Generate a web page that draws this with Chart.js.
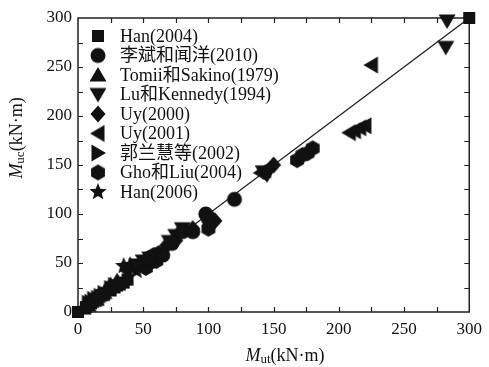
<!DOCTYPE html>
<html>
<head>
<meta charset="utf-8">
<script src="https://cdn.jsdelivr.net/npm/chart.js@4.4.1/dist/chart.umd.min.js"></script>
<style>
  body { margin: 0; background: #fff; }
  #chart { display: block; }
</style>
</head>
<body>
<canvas id="chart" width="489" height="367"></canvas>
<script>
// series names (legend order)
const seriesNames = ['Han(2004)', '李斌和闻洋(2010)', 'Tomii和Sakino(1979)', 'Lu和Kennedy(1994)',
  'Uy(2000)', 'Uy(2001)', '郭兰慧等(2002)', 'Gho和Liu(2004)', 'Han(2006)'];
const markerTypes = ['square', 'circle', 'up', 'down', 'diamond', 'left', 'right', 'hexagon', 'star'];

// [Mut, Muc] pairs
const han2004 = [[0, 0], [300, 300], [6, 5], [10, 9], [15, 13], [18, 17], [20, 18], [25, 22], [28, 25], [30, 27], [32, 28], [35, 30], [38, 33]];
const li2010 = [[98, 100], [120, 115], [80, 82], [88, 82], [72, 70], [60, 57], [55, 55], [65, 58], [100, 95]];
const tomii1979 = [[4, 4], [6, 8], [8, 7], [10, 11], [12, 12], [14, 13], [15, 16], [18, 18], [20, 20], [22, 24], [25, 28], [30, 32]];
const lu1994 = [[283, 297], [282, 270], [145, 140], [142, 143], [75, 78], [80, 85], [70, 72], [45, 48], [50, 52], [55, 55]];
const uy2000 = [[150, 150], [103, 95], [88, 85], [68, 68], [75, 73], [58, 55], [105, 93]];
const uy2001 = [[225, 252], [208, 183], [212, 185], [216, 188], [220, 190], [143, 145], [140, 142]];
const guo2002 = [[8, 9], [10, 10], [12, 13], [15, 14], [17, 16], [20, 19], [25, 24], [28, 27]];
const gho2004 = [[100, 85], [168, 155], [172, 160], [176, 162], [180, 167], [52, 45], [55, 50], [60, 52], [62, 60], [58, 58]];
const han2006 = [[35, 47], [42, 45], [38, 40], [45, 42], [48, 46], [40, 48]];
const seriesData = [han2004, li2010, tomii1979, lu1994, uy2000, uy2001, guo2002, gho2004, han2006];

const xTicks = [0, 50, 100, 150, 200, 250, 300];
const yTicks = [0, 50, 100, 150, 200, 250, 300];

const INK = '#111';
const SERIF = '"Liberation Serif", "Times New Roman", "Noto Sans CJK SC", serif';

// build a small canvas for each marker shape
function makeMarker(type) {
  const size = 20, r = size / 2;
  const c = document.createElement('canvas');
  c.width = c.height = size;
  const g = c.getContext('2d');
  g.fillStyle = INK;
  g.translate(r, r);
  g.beginPath();
  const poly = pts => { g.moveTo(pts[0][0], pts[0][1]); pts.slice(1).forEach(p => g.lineTo(p[0], p[1])); g.closePath(); };
  switch (type) {
    case 'square': g.rect(-6, -6, 12, 12); break;
    case 'circle': g.arc(0, 0, 7.5, 0, Math.PI * 2); break;
    case 'up': poly([[0, -8], [8.5, 6.5], [-8.5, 6.5]]); break;
    case 'down': poly([[0, 8], [8.5, -6.5], [-8.5, -6.5]]); break;
    case 'diamond': poly([[0, -8.5], [7.5, 0], [0, 8.5], [-7.5, 0]]); break;
    case 'left': poly([[-8, 0], [6.5, -8.5], [6.5, 8.5]]); break;
    case 'right': poly([[8, 0], [-6.5, -8.5], [-6.5, 8.5]]); break;
    case 'hexagon': {
      const pts = [];
      for (let k = 0; k < 6; k++) { const a = -Math.PI / 2 + k * Math.PI / 3; pts.push([8 * Math.cos(a), 8 * Math.sin(a)]); }
      poly(pts); break;
    }
    case 'star': {
      const pts = [];
      for (let k = 0; k < 10; k++) { const a = -Math.PI / 2 + k * Math.PI / 5; const rr = k % 2 ? 3.9 : 9; pts.push([rr * Math.cos(a), rr * Math.sin(a)]); }
      poly(pts); break;
    }
  }
  g.fill();
  return c;
}
const markers = markerTypes.map(makeMarker);

// frame + inward ticks on all four sides
const framePlugin = {
  id: 'frame',
  beforeDatasetsDraw(chart) {
    const { ctx, chartArea: { left, right, top, bottom }, scales: { x, y } } = chart;
    ctx.save();
    ctx.strokeStyle = '#222';
    ctx.lineWidth = 1.5;
    ctx.strokeRect(left, top, right - left, bottom - top);
    ctx.lineWidth = 1.2;
    ctx.beginPath();
    for (let v = 25; v < 300; v += 25) {
      const px = Math.round(x.getPixelForValue(v)) + 0.5;
      ctx.moveTo(px, bottom); ctx.lineTo(px, bottom - 5);
      ctx.moveTo(px, top); ctx.lineTo(px, top + 5);
      const py = Math.round(y.getPixelForValue(v)) + 0.5;
      ctx.moveTo(left, py); ctx.lineTo(left + 5, py);
      ctx.moveTo(right, py); ctx.lineTo(right - 5, py);
    }
    ctx.stroke();
    ctx.restore();
  }
};

// draw "M" + subscript + unit, centred on (0,0) of the current transform
function drawSubTitle(ctx, sub) {
  const main = 'italic 18px ' + SERIF, small = '13px ' + SERIF, unit = '18px ' + SERIF;
  ctx.font = main; const w1 = ctx.measureText('M').width;
  ctx.font = small; const w2 = ctx.measureText(sub).width;
  ctx.font = unit; const w3 = ctx.measureText('(kN·m)').width;
  let x0 = -(w1 + w2 + w3) / 2;
  ctx.textBaseline = 'middle';
  ctx.textAlign = 'left';
  ctx.font = main; ctx.fillText('M', x0, 0); x0 += w1;
  ctx.font = small; ctx.fillText(sub, x0, 4); x0 += w2;
  ctx.font = unit; ctx.fillText('(kN·m)', x0, 0);
}

const titlesPlugin = {
  id: 'titles',
  afterDraw(chart) {
    const ctx = chart.ctx;
    ctx.save();
    ctx.fillStyle = INK;
    ctx.translate(285, 356);
    drawSubTitle(ctx, 'ut');
    ctx.restore();
    ctx.save();
    ctx.fillStyle = INK;
    ctx.translate(17, 138);
    ctx.rotate(-Math.PI / 2);
    drawSubTitle(ctx, 'uc');
    ctx.restore();

    // legend inside plot, top-left
    ctx.save();
    ctx.fillStyle = INK;
    ctx.font = '18px ' + SERIF;
    ctx.textBaseline = 'middle';
    ctx.textAlign = 'left';
    seriesNames.forEach((name, i) => {
      const yy = 36 + i * 19.5;
      const m = markers[i];
      ctx.drawImage(m, 98 - m.width / 2, yy - m.height / 2);
      ctx.fillText(name, 120, yy + 1);
    });
    ctx.restore();
  }
};

const datasets = seriesData.map((pts, i) => ({
  label: seriesNames[i],
  data: pts.map(p => ({ x: p[0], y: p[1] })),
  showLine: false,
  pointStyle: markers[i],
  pointRadius: 8,
  clip: false
}));
datasets.push({
  label: 'fit',
  data: [{ x: 0, y: 0 }, { x: 300, y: 300 }],
  showLine: true,
  borderColor: '#222',
  borderWidth: 1.3,
  pointRadius: 0
});

new Chart(document.getElementById('chart'), {
  type: 'scatter',
  data: { datasets },
  options: {
    responsive: false,
    animation: false,
    devicePixelRatio: 1,
    events: [],
    layout: { padding: { top: 18, right: 18, left: 0, bottom: 0 } },
    plugins: { legend: { display: false }, tooltip: { enabled: false } },
    scales: {
      x: {
        type: 'linear', min: 0, max: 300,
        afterFit(s) { s.height = 55; },
        grid: { display: false, drawTicks: false },
        border: { display: false },
        afterBuildTicks(s) { s.ticks = xTicks.map(v => ({ value: v })); },
        ticks: { padding: 7, color: INK, font: { family: SERIF, size: 17 }, maxRotation: 0, autoSkip: false }
      },
      y: {
        type: 'linear', min: 0, max: 300,
        afterFit(s) { s.width = 78; },
        grid: { display: false, drawTicks: false },
        border: { display: false },
        afterBuildTicks(s) { s.ticks = yTicks.map(v => ({ value: v })); },
        ticks: { padding: 6, color: INK, font: { family: SERIF, size: 17 }, autoSkip: false }
      }
    }
  },
  plugins: [framePlugin, titlesPlugin]
});
</script>
</body>
</html>
